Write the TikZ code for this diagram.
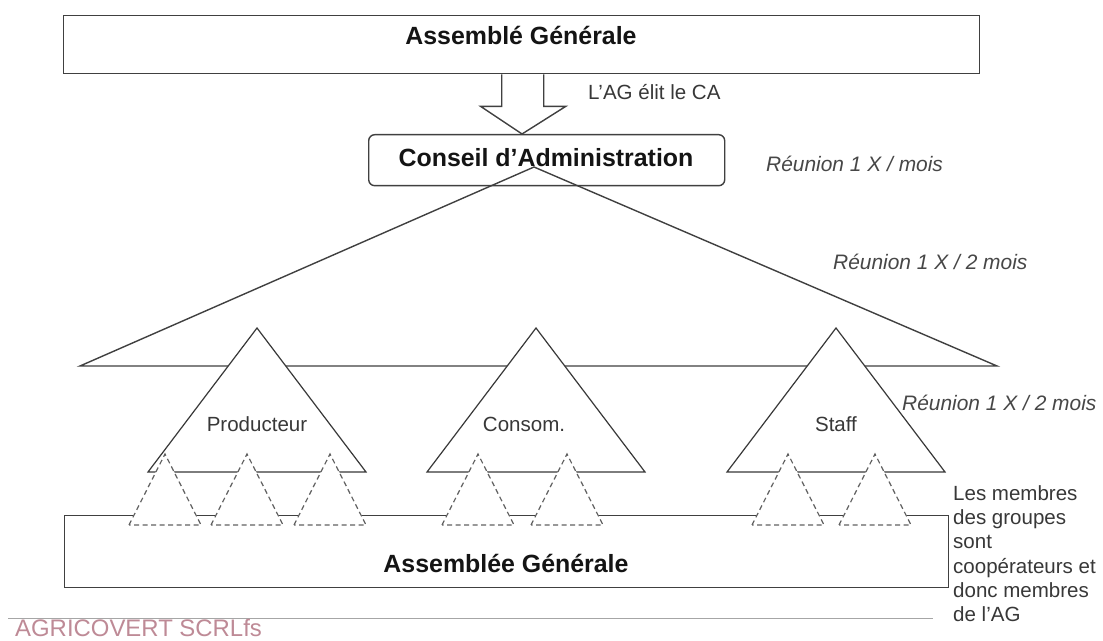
\documentclass[tikz,border=0pt]{standalone}
\usepackage{fontspec}
\setmainfont{Liberation Sans}
\usetikzlibrary{calc}
\definecolor{agri}{RGB}{190,138,150}
\begin{document}
\begin{tikzpicture}[x=1bp,y=-1bp,
  line/.style={draw=black!75, line width=1.4bp},
  dashtri/.style={draw=black!62, line width=1.2bp, dash pattern=on 5bp off 3.5bp, fill=white},
  soltri/.style={draw=black!78, line width=1.2bp, fill=white},
  regtxt/.style={font=\fontsize{20.6}{24.4}\selectfont, text=black!78, inner sep=0},
  boldtxt/.style={font=\fontsize{25}{30}\selectfont\bfseries, text=black!92, inner sep=0},
  ittxt/.style={font=\fontsize{21}{25}\selectfont\itshape, text=black!72, inner sep=0}]
\useasboundingbox (0,0) rectangle (1103,641);
\fill[white] (0,0) rectangle (1103,641);

% top box
\node[line, rectangle, minimum width=916bp, minimum height=58bp, inner sep=0, anchor=north west] (ag) at (63,15) {};
\node[boldtxt, anchor=base] (agt) at (521,45) {Assemblé Générale};

% CA box
\node[line, rounded corners=6bp, fill=white, minimum width=356bp, minimum height=51bp, inner sep=0, anchor=north west] (ca) at (368,134) {};
\node[boldtxt, anchor=base] (cat) at (546,167) {Conseil d’Administration};

% block arrow from AG to CA
\coordinate (tip) at (522,134);
\draw[line, fill=white] ($(ag.south)+(-20,0)$) -- ($(ag.south)+(-20,32)$) -- ($(ag.south)+(-41,32)$) -- (tip)
  -- ($(ag.south)+(44,32)$) -- ($(ag.south)+(22,32)$) -- ($(ag.south)+(22,0)$);
\node[regtxt, anchor=base west] (elit) at (588,100) {L’AG élit le CA};

% big triangle
\coordinate (apex) at (534,167);
\coordinate (bl) at (80,366);
\coordinate (br) at (997,366);
\draw[line] (bl) -- (apex) -- (br) -- cycle;

% group triangles
\foreach \x/\n in {257/prod, 536/cons, 836/staff}{
  \coordinate (\n) at (\x,328);
  \draw[soltri] ($(\n)+(-109,144)$) -- (\n) -- ($(\n)+(109,144)$) -- cycle;
}
\node[regtxt, anchor=base] (prodt) at (257,431) {Producteur};
\node[regtxt, anchor=base] (const) at (524,431) {Consom.};
\node[regtxt, anchor=base] (stafft) at (836,431) {Staff};

% bottom box
\node[line, fill=white, minimum width=884bp, minimum height=72bp, inner sep=0, anchor=north west] (ag2) at (64,515) {};
\node[boldtxt, anchor=base] (ag2t) at (506,572) {Assemblée Générale};

% dashed member triangles
\foreach \x/\n in {165/d1, 247/d2, 330/d3, 478/d4, 567/d5, 788/d6, 875/d7}{
  \coordinate (\n) at (\x,454);
  \draw[dashtri] ($(\n)+(-36,71)$) -- (\n) -- ($(\n)+(36,71)$) -- cycle;
}

% meeting labels
\node[ittxt, anchor=base west] (r1) at (766,172) {Réunion 1 X / mois};
\node[ittxt, anchor=base west] (r2) at (833,270) {Réunion 1 X / 2 mois};
\node[ittxt, anchor=base west] (r3) at (902,410) {Réunion 1 X / 2 mois};

% right note
\node[regtxt, anchor=north west, align=left] (note) at (953,485)
  {Les membres\\des groupes\\sont\\coopérateurs et\\donc membres\\de l’AG};

% footer
\coordinate (s1) at (8,618);
\coordinate (s2) at (933,618);
\draw[draw=black!35, line width=1bp] (s1) -- (s2);
\node[font=\fontsize{24}{28}\selectfont, text=agri, anchor=base west, inner sep=0] (agri) at (15,636) {AGRICOVERT SCRLfs};
\end{tikzpicture}
\end{document}
